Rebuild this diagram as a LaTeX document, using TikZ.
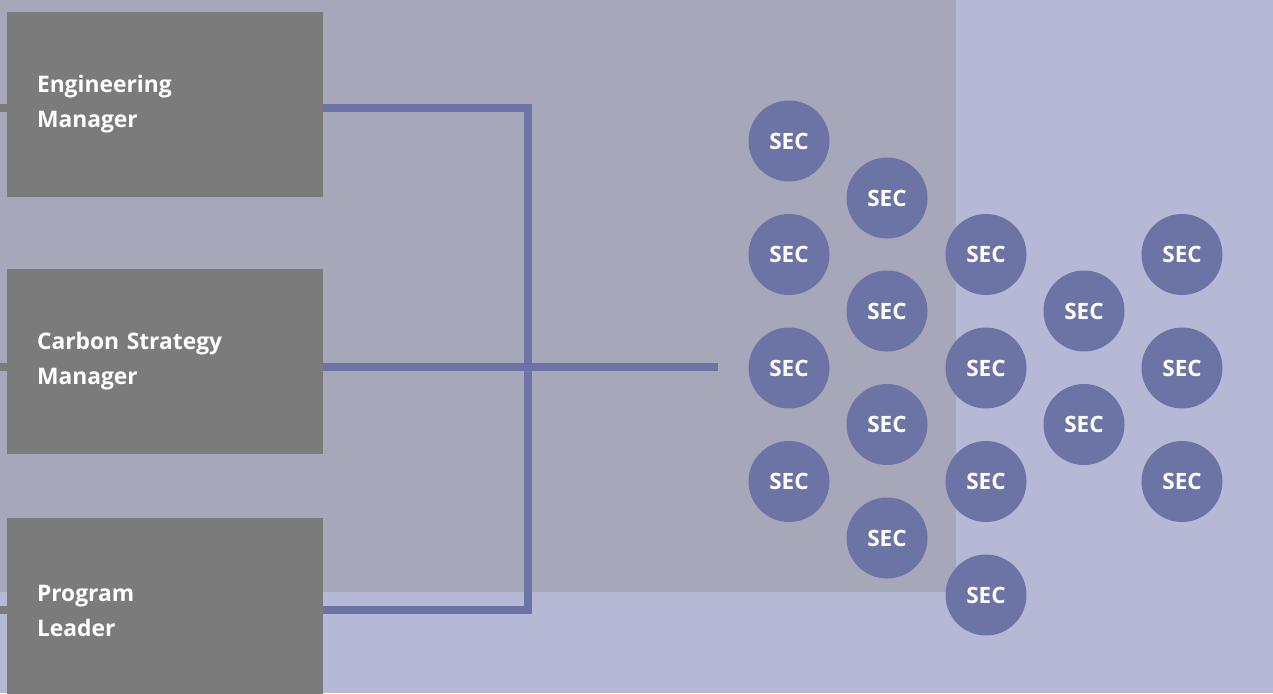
\documentclass[tikz,border=0pt]{standalone}
\usepackage{fontspec}
\setmainfont{Open Sans}
\usetikzlibrary{positioning}

\definecolor{bgblue}{HTML}{B5B9D6}
\definecolor{panelgray}{HTML}{A6A7B9}
\definecolor{boxgray}{HTML}{7B7B7B}
\definecolor{secblue}{HTML}{6C74A5}

\tikzset{
    rolebox/.style={fill=boxgray, minimum width=316pt, minimum height=185pt, text width=256pt,
        inner xsep=30pt, align=left, text=white, font=\fontsize{22.8}{35}\selectfont\bfseries},
    secnode/.style={circle, fill=secblue, minimum size=81pt, inner sep=0pt, text=white,
        font=\fontsize{22.5}{24}\selectfont\bfseries},
    link/.style={secblue, line width=7.5pt},
    stub/.style={boxgray, line width=7.5pt}
}

\begin{document}
\begin{tikzpicture}[x=1pt, y=-1pt]
            \fill[bgblue] (0,0) rectangle (1273,693);
            \useasboundingbox (0,0) rectangle (1273,693);
            \fill[panelgray] (0,0) rectangle (956,592);

            \node[rolebox] (eng) at (165,104.5) {Engineering\\Manager};
            \node[rolebox] (carbon) at (165,361) {Carbon Strategy\\Manager};
            \node[rolebox] (prog) at (165,610.5) {Program\\Leader};

            % stubs from the left edge
            \coordinate (engin) at (0,108);
            \coordinate (carbonin) at (0,367);
            \coordinate (progin) at (0,610);
            \draw[stub] (engin) -- (engin -| eng.west);
            \draw[stub] (carbonin) -- (carbonin -| carbon.west);
            \draw[stub] (progin) -- (progin -| prog.west);

            % connectors
            \coordinate (hubtop) at (528,108);
            \coordinate (hubbot) at (528,610);
            \coordinate (hubend) at (718,367);
            \draw[link, line join=miter] (hubtop -| eng.east) -- (hubtop) -- (hubbot) -- (hubbot -| prog.east);
            \draw[link] (hubend -| carbon.east) -- (hubend);

            % SEC circles
            \foreach \n/\x/\y in {a1/789/141, a2/789/254.5, a3/789/368, a4/789/481.5,
                                  b1/887/198, b2/887/311, b3/887/424.5, b4/887/538,
                                  c1/986/254.5, c2/986/368, c3/986/481.5, c4/986/595,
                                  d1/1084/311, d2/1084/424.5,
                                  e1/1182/254.5, e2/1182/368, e3/1182/481.5}
                \node[secnode] (sec\n) at (\x,\y) {SEC};
        \end{tikzpicture}
\end{document}
